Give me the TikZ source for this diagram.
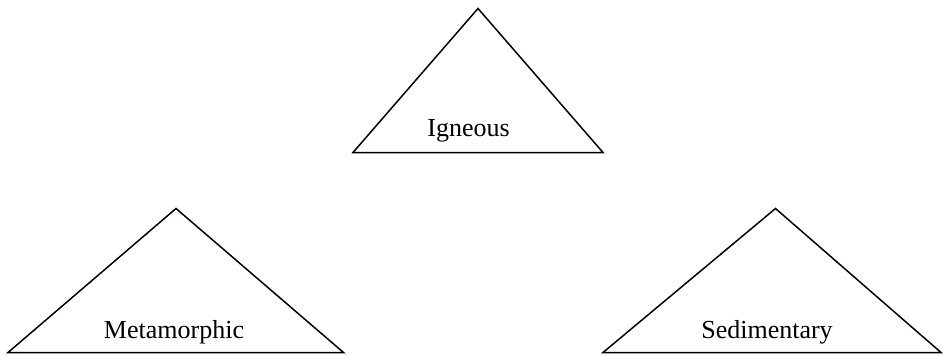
\documentclass[tikz,border=0pt]{standalone}
\usepackage{fontspec}
\setmainfont{Liberation Serif}
\begin{document}
\begin{tikzpicture}[x=1pt,y=-1pt,
  tri/.style={draw=black,line width=1.5pt,line join=miter},
  lbl/.style={anchor=base,inner sep=0pt,font=\fontsize{26}{30}\selectfont}]
\useasboundingbox (0,0) rectangle (945,356);
% Igneous
\draw[tri] (478,8.5) -- (603,152.5) -- (353,152.5) -- cycle;
\node[lbl] (ign) at (468.5,136) {Igneous};
% Metamorphic
\draw[tri] (176,208.5) -- (343.5,352.5) -- (8,352.5) -- cycle;
\node[lbl] (met) at (174,338) {Metamorphic};
% Sedimentary
\draw[tri] (775.5,208.5) -- (941,352.5) -- (603,352.5) -- cycle;
\node[lbl] (sed) at (767,338) {Sedimentary};
\end{tikzpicture}
\end{document}
